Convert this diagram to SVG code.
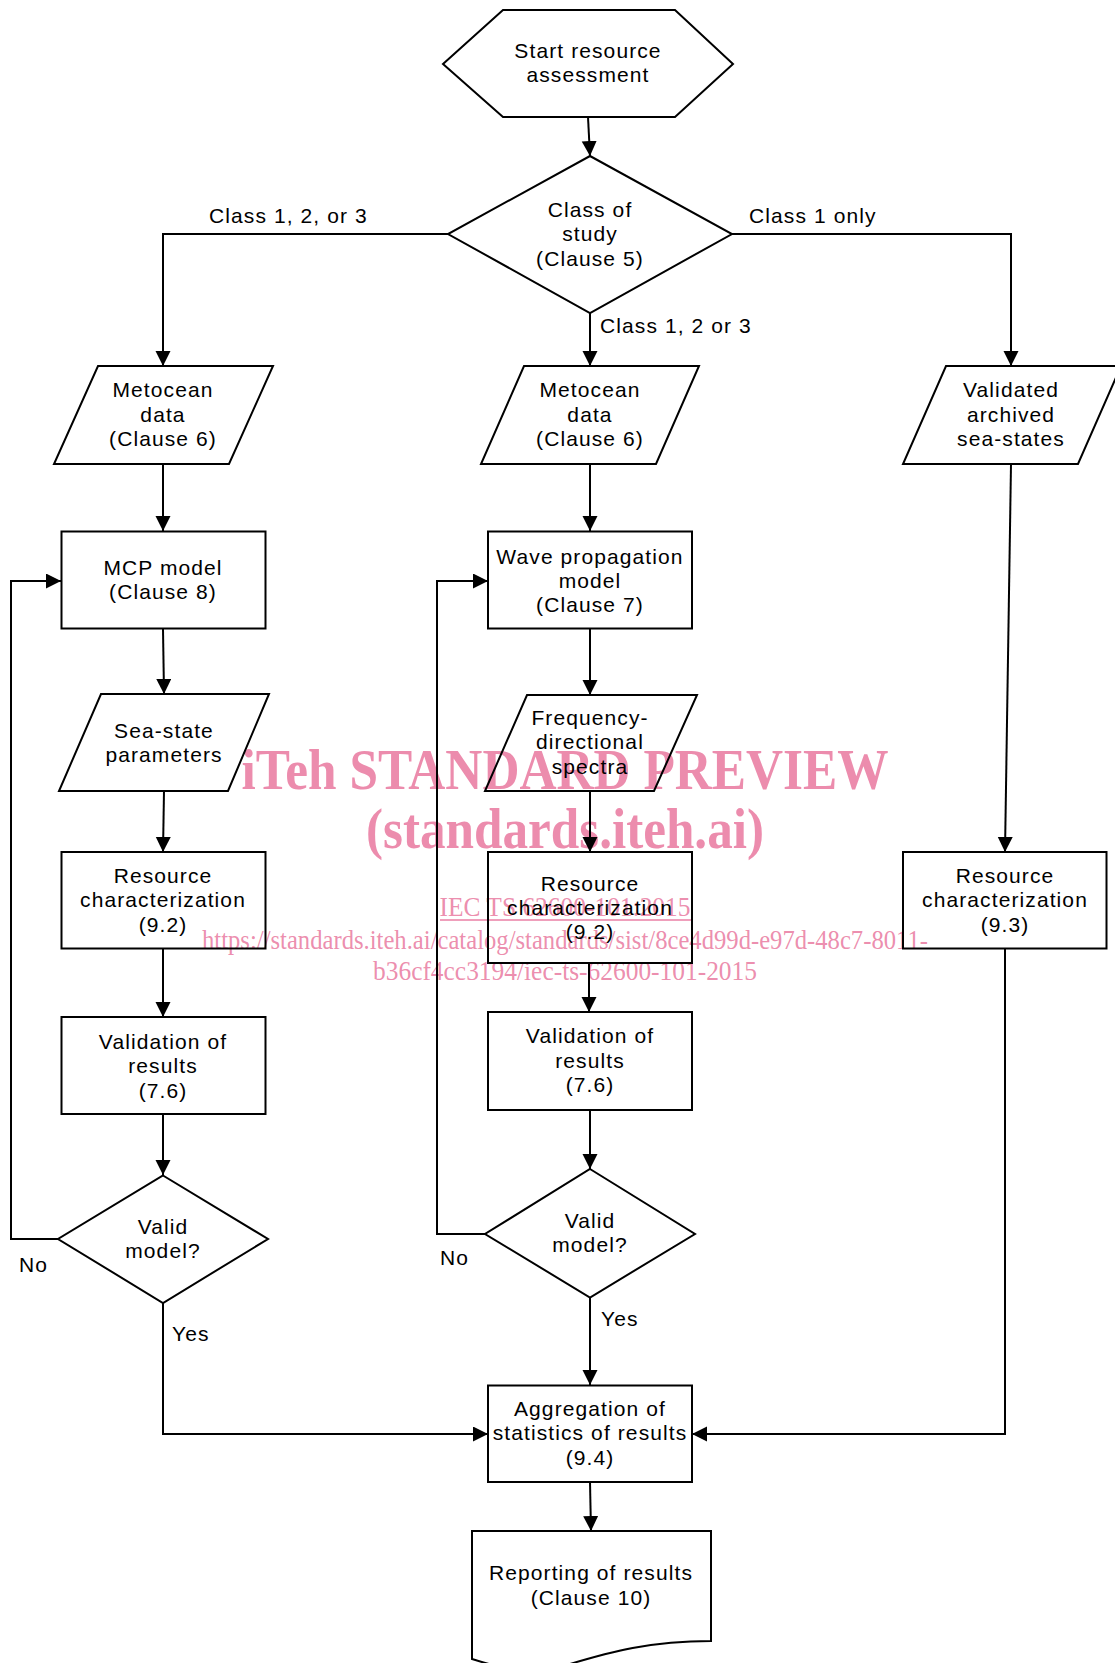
<svg xmlns="http://www.w3.org/2000/svg" width="1115" height="1663" viewBox="0 0 1115 1663">
<style>
.s{fill:none;stroke:#000;stroke-width:2}
.t{font-family:"Liberation Sans",Arial,sans-serif;font-size:21px;letter-spacing:1.1px;fill:#000;text-anchor:middle}
.l{font-family:"Liberation Sans",Arial,sans-serif;font-size:21px;letter-spacing:1.1px;fill:#000}
.c{fill:none;stroke:#000;stroke-width:2}
.w{font-family:"Liberation Serif","Times New Roman",serif;fill:#ea7fa4;fill-opacity:0.9;text-anchor:middle}
</style>
<defs>
<marker id="ah" markerUnits="userSpaceOnUse" markerWidth="16" markerHeight="16" refX="15" refY="7.5" orient="auto">
<path d="M0,0 L15,7.5 L0,15 z" fill="#000"/>
</marker>
</defs>
<rect width="1115" height="1663" fill="#fff"/>

<g id="watermark">
<text class="w" x="565" y="789" font-size="56" font-weight="bold" textLength="647" lengthAdjust="spacingAndGlyphs">iTeh STANDARD PREVIEW</text>
<text class="w" x="565" y="848" font-size="56" font-weight="bold" textLength="398" lengthAdjust="spacingAndGlyphs">(standards.iteh.ai)</text>
<text class="w" x="565" y="916" font-size="28" textLength="251" lengthAdjust="spacingAndGlyphs">IEC TS 62600-101:2015</text>
<line x1="440" y1="920" x2="691" y2="920" stroke="#ea7fa4" stroke-width="1.5"/>
<text class="w" x="565" y="949" font-size="28" textLength="726" lengthAdjust="spacingAndGlyphs">https://standards.iteh.ai/catalog/standards/sist/8ce4d99d-e97d-48c7-8011-</text>
<text class="w" x="565" y="980" font-size="28" textLength="384" lengthAdjust="spacingAndGlyphs">b36cf4cc3194/iec-ts-62600-101-2015</text>
</g>

<g id="connectors" class="c" marker-end="url(#ah)">
<path d="M588,117 L590,156"/>
<path d="M448,234 H163 V366"/>
<path d="M590,313 V366"/>
<path d="M732,234 H1011 V366"/>
<path d="M163,464 V531"/>
<path d="M590,464 V531"/>
<path d="M1011,464 L1005,852"/>
<path d="M163,629 L164,694"/>
<path d="M164,791 L163,852"/>
<path d="M163,948 V1017"/>
<path d="M163,1114 V1175"/>
<path d="M58,1239 H11 V581 H61"/>
<path d="M163,1303 V1434 H488"/>
<path d="M590,629 V695"/>
<path d="M590,791 V852"/>
<path d="M589,963 V1012"/>
<path d="M590,1110 V1169"/>
<path d="M485,1234 H437 V581 H488"/>
<path d="M590,1297 V1385"/>
<path d="M1005,948 V1434 H692"/>
<path d="M590,1482 L591,1531"/>
</g>

<g id="start">
<polygon class="s" points="443,64 503,10 675,10 733,64 675,117 503,117"/>
<text class="t" x="588" y="58">Start resource</text>
<text class="t" x="588" y="82">assessment</text>
</g>
<g id="class-of-study">
<polygon class="s" points="590,156 732,234 590,313 448,234"/>
<text class="t" x="590" y="217">Class of</text>
<text class="t" x="590" y="241">study</text>
<text class="t" x="590" y="266">(Clause 5)</text>
</g>
<g id="labels">
<text class="l" x="209" y="223">Class 1, 2, or 3</text>
<text class="l" x="749" y="223">Class 1 only</text>
<text class="l" x="600" y="333">Class 1, 2 or 3</text>
<text class="l" x="19" y="1272">No</text>
<text class="l" x="172" y="1341">Yes</text>
<text class="l" x="440" y="1265">No</text>
<text class="l" x="601" y="1326">Yes</text>
</g>

<g id="metocean-left">
<polygon class="s" points="98,366 273,366 229,464 54,464"/>
<text class="t" x="163" y="397">Metocean</text>
<text class="t" x="163" y="422">data</text>
<text class="t" x="163" y="446">(Clause 6)</text>
</g>
<g id="metocean-mid">
<polygon class="s" points="524,366 699,366 656,464 481,464"/>
<text class="t" x="590" y="397">Metocean</text>
<text class="t" x="590" y="422">data</text>
<text class="t" x="590" y="446">(Clause 6)</text>
</g>
<g id="validated-archived">
<polygon class="s" points="946,366 1121,366 1078,464 903,464"/>
<text class="t" x="1011" y="397">Validated</text>
<text class="t" x="1011" y="422">archived</text>
<text class="t" x="1011" y="446">sea-states</text>
</g>

<g id="mcp-model">
<rect class="s" x="61.5" y="531.5" width="204" height="97"/>
<text class="t" x="163" y="575">MCP model</text>
<text class="t" x="163" y="599">(Clause 8)</text>
</g>
<g id="wave-model">
<rect class="s" x="488" y="531.5" width="204" height="97"/>
<text class="t" x="590" y="564">Wave propagation</text>
<text class="t" x="590" y="588">model</text>
<text class="t" x="590" y="612">(Clause 7)</text>
</g>

<g id="sea-state">
<polygon class="s" points="101,694 269,694 228,791 59,791"/>
<text class="t" x="164" y="738">Sea-state</text>
<text class="t" x="164" y="762">parameters</text>
</g>
<g id="freq-spectra">
<polygon class="s" points="527,695 697,695 654,791 485,791"/>
<text class="t" x="590" y="725">Frequency-</text>
<text class="t" x="590" y="749">directional</text>
<text class="t" x="590" y="774">spectra</text>
</g>

<g id="resource-left">
<rect class="s" x="61.5" y="852" width="204" height="96.5"/>
<text class="t" x="163" y="883">Resource</text>
<text class="t" x="163" y="907">characterization</text>
<text class="t" x="163" y="932">(9.2)</text>
</g>
<g id="resource-mid">
<rect class="s" x="488" y="852" width="204" height="111"/>
<text class="t" x="590" y="891">Resource</text>
<text class="t" x="590" y="915">characterization</text>
<text class="t" x="590" y="939">(9.2)</text>
</g>
<g id="resource-right">
<rect class="s" x="903" y="852" width="203.5" height="96.5"/>
<text class="t" x="1005" y="883">Resource</text>
<text class="t" x="1005" y="907">characterization</text>
<text class="t" x="1005" y="932">(9.3)</text>
</g>

<g id="validation-left">
<rect class="s" x="61.5" y="1017" width="204" height="97"/>
<text class="t" x="163" y="1049">Validation of</text>
<text class="t" x="163" y="1073">results</text>
<text class="t" x="163" y="1098">(7.6)</text>
</g>
<g id="validation-mid">
<rect class="s" x="488" y="1012" width="204" height="98"/>
<text class="t" x="590" y="1043">Validation of</text>
<text class="t" x="590" y="1068">results</text>
<text class="t" x="590" y="1092">(7.6)</text>
</g>

<g id="valid-left">
<polygon class="s" points="163,1175.5 268,1239 163,1303 58,1239"/>
<text class="t" x="163" y="1234">Valid</text>
<text class="t" x="163" y="1258">model?</text>
</g>
<g id="valid-mid">
<polygon class="s" points="590,1169 695,1234 590,1297.5 485,1234"/>
<text class="t" x="590" y="1228">Valid</text>
<text class="t" x="590" y="1252">model?</text>
</g>

<g id="aggregation">
<rect class="s" x="488" y="1385.5" width="204" height="96.5"/>
<text class="t" x="590" y="1416">Aggregation of</text>
<text class="t" x="590" y="1440">statistics of results</text>
<text class="t" x="590" y="1465">(9.4)</text>
</g>
<g id="reporting">
<path class="s" d="M472,1531 H711 V1641 C650,1641 610,1652 570,1664 C530,1676 500,1668 472,1659 Z"/>
<text class="t" x="591" y="1580">Reporting of results</text>
<text class="t" x="591" y="1605">(Clause 10)</text>
</g>
</svg>
